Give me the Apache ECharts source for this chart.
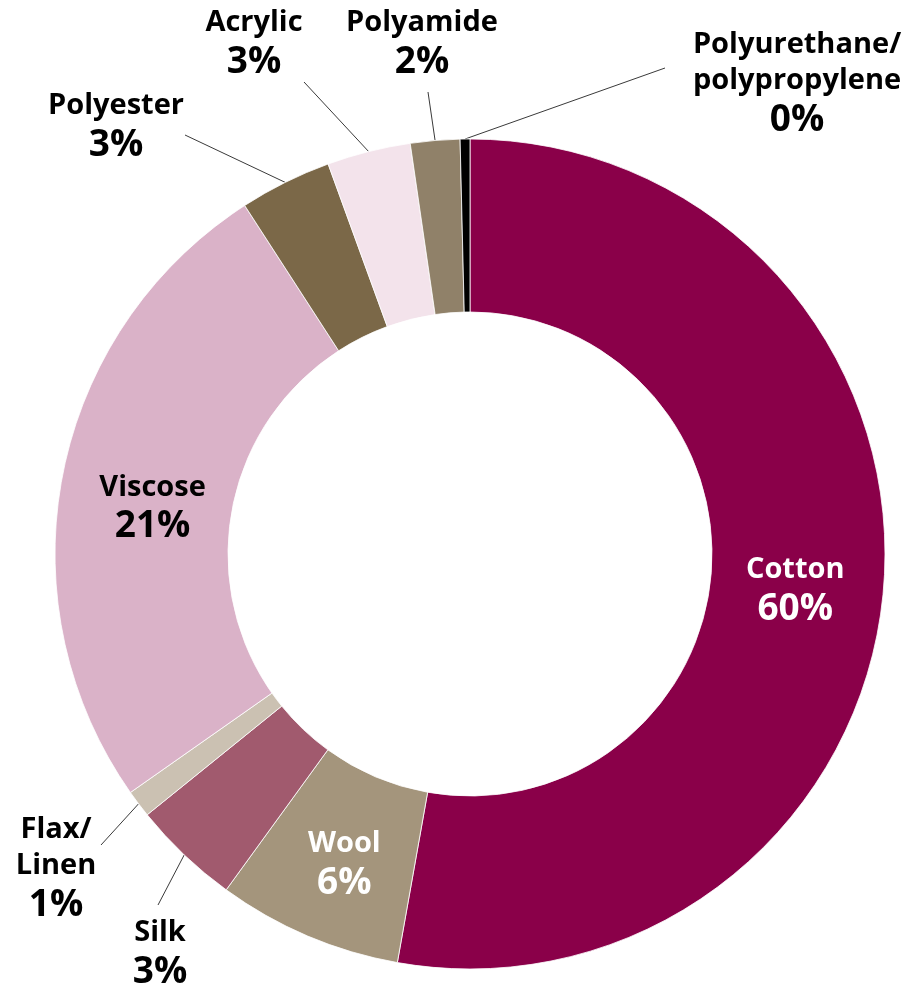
<!DOCTYPE html>
<html>
<head>
<meta charset="utf-8">
<script src="https://cdn.jsdelivr.net/npm/echarts@6/dist/echarts.min.js"></script>
<style>
  html, body { margin: 0; padding: 0; background: #fff; }
  #chart { width: 908px; height: 987px; }
</style>
</head>
<body>
<div id="chart"></div>
<script>
// slice names, shares and the printed labels
var names = ['Cotton', 'Wool', 'Silk', 'Flax/\nLinen', 'Viscose', 'Polyester', 'Acrylic', 'Polyamide', 'Polyurethane/\npolypropylene'];
var values = [52.78, 7.19, 4.19, 1.07, 25.6, 3.58, 3.25, 1.92, 0.38];
var shownPct = ['60%', '6%', '3%', '1%', '21%', '3%', '3%', '2%', '0%'];
var colors = ['#8a0049', '#a4957c', '#a15a6e', '#cbc1b2', '#dab2c8', '#7b6848', '#f3e3eb', '#908169', '#000000'];

// labels that sit inside the ring: colour and a small nudge
var inside = {
  'Cotton': { color: '#fff', dx: -5, dy: 8 },
  'Wool': { color: '#fff', dx: 4, dy: 6 },
  'Viscose': { color: '#000', dx: 8, dy: 18 }
};

// outside label placement: label centre + end of the leader line
var outsideSpots = {
  'Silk': { x: 160, y: 954, end: [158, 905] },
  'Flax/\nLinen': { x: 56, y: 869, end: [101, 845] },
  'Polyester': { x: 116, y: 127, end: [185, 135] },
  'Acrylic': { x: 254, y: 44, end: [304, 82] },
  'Polyamide': { x: 422, y: 44, end: [428, 92] },
  'Polyurethane/\npolypropylene': { x: 797, y: 84, end: [665, 68] }
};

var chart = echarts.init(document.getElementById('chart'));

var pieData = names.map(function (n, i) {
  var isIn = inside[n] !== undefined;
  var nameLines = n.split('\n').map(function (s) { return '{n|' + s + '}'; }).join('\n');
  return {
    name: n,
    value: values[i],
    itemStyle: { color: colors[i] },
    label: {
      position: isIn ? 'inside' : 'outside',
      color: isIn ? inside[n].color : '#000',
      formatter: nameLines + '\n{p|' + shownPct[i] + '}'
    },
    labelLine: { show: !isIn }
  };
});

chart.setOption({
  backgroundColor: '#fff',
  animation: false,
  series: [{
    type: 'pie',
    center: [470, 554],
    radius: [242, 415],
    startAngle: 90,
    clockwise: true,
    avoidLabelOverlap: false,
    itemStyle: { borderColor: '#fff', borderWidth: 0.8 },
    label: {
      fontFamily: 'Open Sans',
      fontWeight: 'bold',
      align: 'center',
      rich: {
        n: { fontFamily: 'Open Sans', fontWeight: 'bold', fontSize: 29, lineHeight: 36, align: 'center' },
        p: { fontFamily: 'Open Sans', fontWeight: 'bold', fontSize: 37, lineHeight: 42, align: 'center' }
      }
    },
    labelLine: { lineStyle: { color: '#3a3a3a', width: 1 }, length: 20, length2: 0 },
    emphasis: { disabled: true },
    labelLayout: function (params) {
      var n = names[params.dataIndex];
      if (inside[n]) return { dx: inside[n].dx, dy: inside[n].dy };
      var spot = outsideSpots[n];
      var start = params.labelLinePoints ? params.labelLinePoints[0] : spot.end;
      return {
        x: spot.x,
        y: spot.y,
        align: 'center',
        verticalAlign: 'middle',
        labelLinePoints: [start, spot.end, spot.end]
      };
    },
    data: pieData
  }]
});
</script>
</body>
</html>
